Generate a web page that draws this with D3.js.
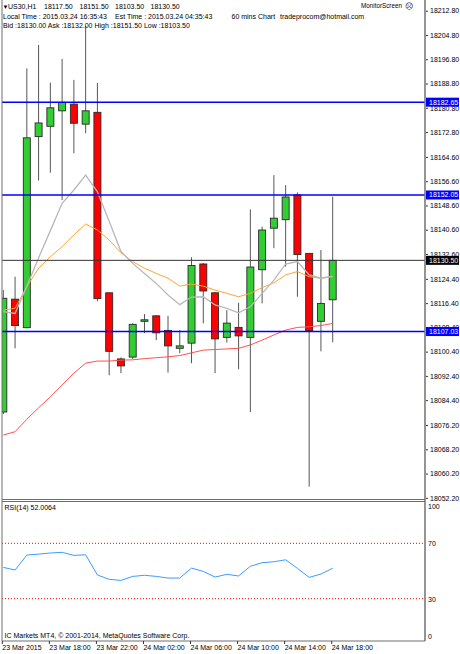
<!DOCTYPE html>
<html><head><meta charset="utf-8">
<script src="https://cdn.jsdelivr.net/npm/d3@7"></script>
<style>
html,body{margin:0;padding:0;background:#fff;}
svg{display:block;}
text{font-family:"Liberation Sans",Arial,sans-serif;fill:#000;}
</style>
</head><body>
<svg id="c" width="460" height="654"></svg>
<script>
// ---------- DATA ----------
const times = ["23 Mar 14:00","23 Mar 15:00","23 Mar 16:00","23 Mar 17:00","23 Mar 18:00","23 Mar 19:00","23 Mar 20:00","23 Mar 21:00","23 Mar 22:00","23 Mar 23:00",
  "24 Mar 00:00","24 Mar 01:00","24 Mar 02:00","24 Mar 03:00","24 Mar 04:00","24 Mar 05:00","24 Mar 06:00","24 Mar 07:00","24 Mar 08:00","24 Mar 09:00",
  "24 Mar 10:00","24 Mar 11:00","24 Mar 12:00","24 Mar 13:00","24 Mar 14:00","24 Mar 15:00","24 Mar 16:00","24 Mar 17:00","24 Mar 18:00"];
const open  = [18080.5,18117.7,18108.3,18171.3,18174.7,18179.8,18182.0,18175.4,18179.3,18119.8,18098.0,18098.6,18110.4,18112.2,18107.4,18101.5,18103.2,18129.3,18119.8,18105.1,18108.4,18105.1,18127.4,18141.1,18143.9,18152.05,18132.8,18110.4,18117.5];
const high  = [18120.7,18125.1,18193.8,18201.5,18189.1,18196.9,18190.0,18207.8,18189.0,18119.8,18098.5,18109.8,18112.8,18112.5,18112.2,18107.5,18131.5,18129.6,18120.0,18114.1,18116.5,18147.3,18141.6,18158.6,18155.3,18152.9,18132.9,18133.9,18151.5];
const low   = [18079.8,18101.5,18108.1,18156.8,18159.4,18150.4,18165.8,18172.4,18117.0,18092.6,18093.3,18098.0,18106.5,18104.2,18093.5,18099.9,18096.6,18109.7,18093.3,18103.4,18094.6,18080.5,18116.3,18134.5,18128.4,18118.5,18055.9,18100.5,18103.5];
const close = [18118.0,18109.0,18170.9,18175.8,18180.8,18182.6,18175.7,18179.8,18117.9,18100.5,18095.7,18109.4,18110.9,18106.6,18102.3,18102.3,18128.8,18120.4,18104.6,18109.8,18105.6,18128.3,18140.5,18144.4,18151.4,18132.4,18107.3,18116.3,18130.5];
const maFast = [18113.6,18113.0,18122.0,18131.3,18140.3,18149.3,18153.7,18158.6,18153.1,18143.4,18133.4,18129.5,18126.2,18122.9,18119.1,18115.9,18118.4,18118.5,18115.8,18114.7,18113.2,18115.2,18119.6,18124.0,18129.3,18130.1,18125.7,18124.6,18125.3];
const maMid  = [18114.1,18114.7,18121.8,18127.9,18131.7,18135.0,18138.9,18142.5,18140.5,18137.2,18133.0,18130.1,18127.9,18126.2,18124.6,18122.0,18122.7,18122.0,18120.7,18119.6,18118.5,18119.6,18121.5,18123.1,18125.7,18126.8,18125.1,18124.6,18125.1];
const maSlow = [18072.9,18074.0,18078.1,18081.9,18085.5,18089.4,18093.3,18096.6,18097.3,18097.3,18097.6,18097.7,18098.1,18098.4,18098.7,18099.1,18100.0,18100.9,18101.1,18101.3,18101.5,18102.6,18104.2,18105.9,18107.5,18108.4,18108.6,18109.0,18109.7];
const rsi = [52.6,50.7,61.5,62.2,63.0,63.5,61.3,61.7,47.1,44.0,43.2,46.1,46.9,46.1,44.9,44.9,52.1,49.7,45.6,47.6,46.4,53.4,56.0,56.7,58.1,51.9,45.4,47.8,52.0064];
const priceTicks = [18212.80,18204.80,18196.80,18188.80,18180.80,18172.80,18164.60,18156.60,18148.60,18140.60,18132.60,18124.40,18116.40,18108.40,18100.40,18092.40,18084.40,18076.20,18068.20,18060.20,18052.20];
const levels = [18182.65,18152.05,18107.03];
const lastPrice = 18130.50;
const rsiTicks = [100,70,30,0];
const rsiLevels = [70,30];
const timeTickBars = ["23 Mar 14:00","23 Mar 18:00","23 Mar 22:00","24 Mar 02:00","24 Mar 06:00","24 Mar 10:00","24 Mar 14:00","24 Mar 18:00"];
const timeTickLabels = ["23 Mar 2015","23 Mar 18:00","23 Mar 22:00","24 Mar 02:00","24 Mar 06:00","24 Mar 10:00","24 Mar 14:00","24 Mar 18:00"];

// ---------- LAYOUT ----------
const PL = 2, PR = 425, MB = 499.5, RT = 501.5, RB = 641;
const svg = d3.select("#c");
svg.append("rect").attr("width",460).attr("height",654).attr("fill","#fff");

const x = d3.scalePoint().domain(times).range([3.3, 332.7]);
const y = d3.scaleLinear().domain([18051.65, 18215.68]).range([MB, 2]);
const yr = d3.scaleLinear().domain([0,100]).range([640.2, 501.8]);

const defs = svg.append("defs");
defs.append("clipPath").attr("id","mainClip").append("rect").attr("x",PL).attr("y",0).attr("width",PR-PL).attr("height",MB);
defs.append("clipPath").attr("id","rsiClip").append("rect").attr("x",PL).attr("y",RT).attr("width",PR-PL).attr("height",RB-RT);

const data = times.map((t,i)=>({t,o:open[i],h:high[i],l:low[i],c:close[i]}));
const main = svg.append("g").attr("clip-path","url(#mainClip)");

// candles
const cg = main.append("g");
cg.selectAll("line.wick").data(data).join("line").attr("class","wick")
  .attr("x1",d=>x(d.t)).attr("x2",d=>x(d.t)).attr("y1",d=>y(d.h)).attr("y2",d=>y(d.l))
  .attr("stroke","#555").attr("stroke-width",1);
const bw = 7;
cg.selectAll("rect.body").data(data).join("rect").attr("class","body")
  .attr("x",d=>x(d.t)-bw/2).attr("width",bw)
  .attr("y",d=>y(Math.max(d.o,d.c)))
  .attr("height",d=>Math.max(1.5, Math.abs(y(d.o)-y(d.c))))
  .attr("fill",d=>d.c>=d.o?"#32cd32":"#ff0000")
  .attr("stroke","#2a2a2a").attr("stroke-width",0.9);

// moving averages
const line = (arr,sc)=>d3.line().x((d,i)=>x(times[i])).y(d=>sc(d))(arr);
main.append("path").attr("d",line(maSlow,y)).attr("fill","none").attr("stroke","#ff5050").attr("stroke-width",1);
main.append("path").attr("d",line(maMid,y)).attr("fill","none").attr("stroke","#ffa530").attr("stroke-width",1);
main.append("path").attr("d",line(maFast,y)).attr("fill","none").attr("stroke","#b8b8b8").attr("stroke-width",1.3);

// horizontal levels
main.selectAll("line.lvl").data(levels).join("line").attr("class","lvl")
  .attr("x1",PL).attr("x2",PR).attr("y1",d=>y(d)).attr("y2",d=>y(d))
  .attr("stroke","#0000ff").attr("stroke-width",1.6);
main.append("line").attr("x1",PL).attr("x2",PR).attr("y1",y(lastPrice)).attr("y2",y(lastPrice))
  .attr("stroke","#333").attr("stroke-width",1);

// price axis
const ya = d3.axisRight(y).tickValues(priceTicks).tickFormat(d3.format(".2f")).tickSize(2).tickPadding(2);
const yag = svg.append("g").attr("transform",`translate(${PR+1},0)`).call(ya);
yag.select(".domain").remove();
yag.selectAll("line").attr("stroke","#333");
yag.selectAll("text").attr("font-size",7).attr("fill","#222");

// price label boxes
const boxes = levels.map(v=>({v,fill:"#0000ff"})).concat([{v:lastPrice,fill:"#000"}]);
const bg = svg.append("g");
bg.selectAll("rect").data(boxes).join("rect")
  .attr("x",PR+1).attr("y",d=>y(d.v)-4.5).attr("width",33).attr("height",9).attr("fill",d=>d.fill);
bg.selectAll("text").data(boxes).join("text")
  .attr("x",PR+4).attr("y",d=>y(d.v)).attr("dy","0.34em").attr("font-size",7).attr("fill","#fff")
  .style("fill","#fff").text(d=>d3.format(".2f")(d.v));

// RSI panel
const rg = svg.append("g").attr("clip-path","url(#rsiClip)");
rg.selectAll("line.lv").data(rsiLevels).join("line").attr("class","lv")
  .attr("x1",PL).attr("x2",PR).attr("y1",d=>yr(d)).attr("y2",d=>yr(d))
  .attr("stroke","#ff0000").attr("stroke-width",1).attr("stroke-dasharray","1,2");
rg.append("path").attr("d",line(rsi,yr)).attr("fill","none").attr("stroke","#3b9cff").attr("stroke-width",1);

const ra = d3.axisRight(yr).tickValues(rsiTicks).tickSize(0).tickPadding(2);
const rag = svg.append("g").attr("transform",`translate(${PR+1},0)`).call(ra);
rag.select(".domain").remove();
rag.selectAll("text").attr("font-size",7).attr("fill","#222")
  .attr("dy",d=>d===100?"0.9em":(d===0?"-0.2em":"0.34em"));

// frame lines
const fr = svg.append("g").attr("stroke","#6e6e6e").attr("fill","none");
fr.append("line").attr("x1",PL).attr("x2",PL).attr("y1",0).attr("y2",RB);
fr.append("line").attr("x1",PR).attr("x2",PR).attr("y1",0).attr("y2",RB).attr("stroke-width",1.6).attr("stroke","#7a7a7a");
fr.append("line").attr("x1",PL).attr("x2",PR).attr("y1",MB).attr("y2",MB);
fr.append("line").attr("x1",PL).attr("x2",PR).attr("y1",RT).attr("y2",RT);
fr.append("line").attr("x1",PL).attr("x2",PR).attr("y1",RB).attr("y2",RB);

// time axis
const xa = d3.axisBottom(x).tickValues(timeTickBars).tickFormat((d,i)=>timeTickLabels[i]).tickSize(3).tickSizeOuter(0).tickPadding(1);
const xag = svg.append("g").attr("transform",`translate(-1.5,${RB})`).call(xa);
xag.select(".domain").remove();
xag.selectAll("line").attr("stroke","#333");
xag.selectAll("text").attr("font-size",7).attr("text-anchor","start").attr("fill","#222").attr("dx",0);

// header texts
const tx = (s,xx,yy,fs=7)=>svg.append("text").attr("x",xx).attr("y",yy).attr("font-size",fs).attr("fill","#111").text(s);
tx("▼",2.5,8.5,6);
tx("US30,H1",8,9);
tx("18117.50",44,9);
tx("18151.50",79.5,9);
tx("18103.50",115,9);
tx("18130.50",150.5,9);
tx("Local Time : 2015.03.24 16:35:43",3,18.5);
tx("Est Time : 2015.03.24 04:35:43",115,18.5);
tx("Bid :18130.00 Ask :18132.00 High :18151.50 Low :18103.50",3,28);
tx("60 mins Chart",231.5,18.5);
tx("tradeprocom@hotmail.com",280,18.5);
tx("MonitorScreen",361,8,6.3);
tx("☹",404.5,8.5,8);
tx("RSI(14) 52.0064",4.5,510);
tx("IC Markets MT4, © 2001-2014, MetaQuotes Software Corp.",4.5,638);
</script>
</body></html>
